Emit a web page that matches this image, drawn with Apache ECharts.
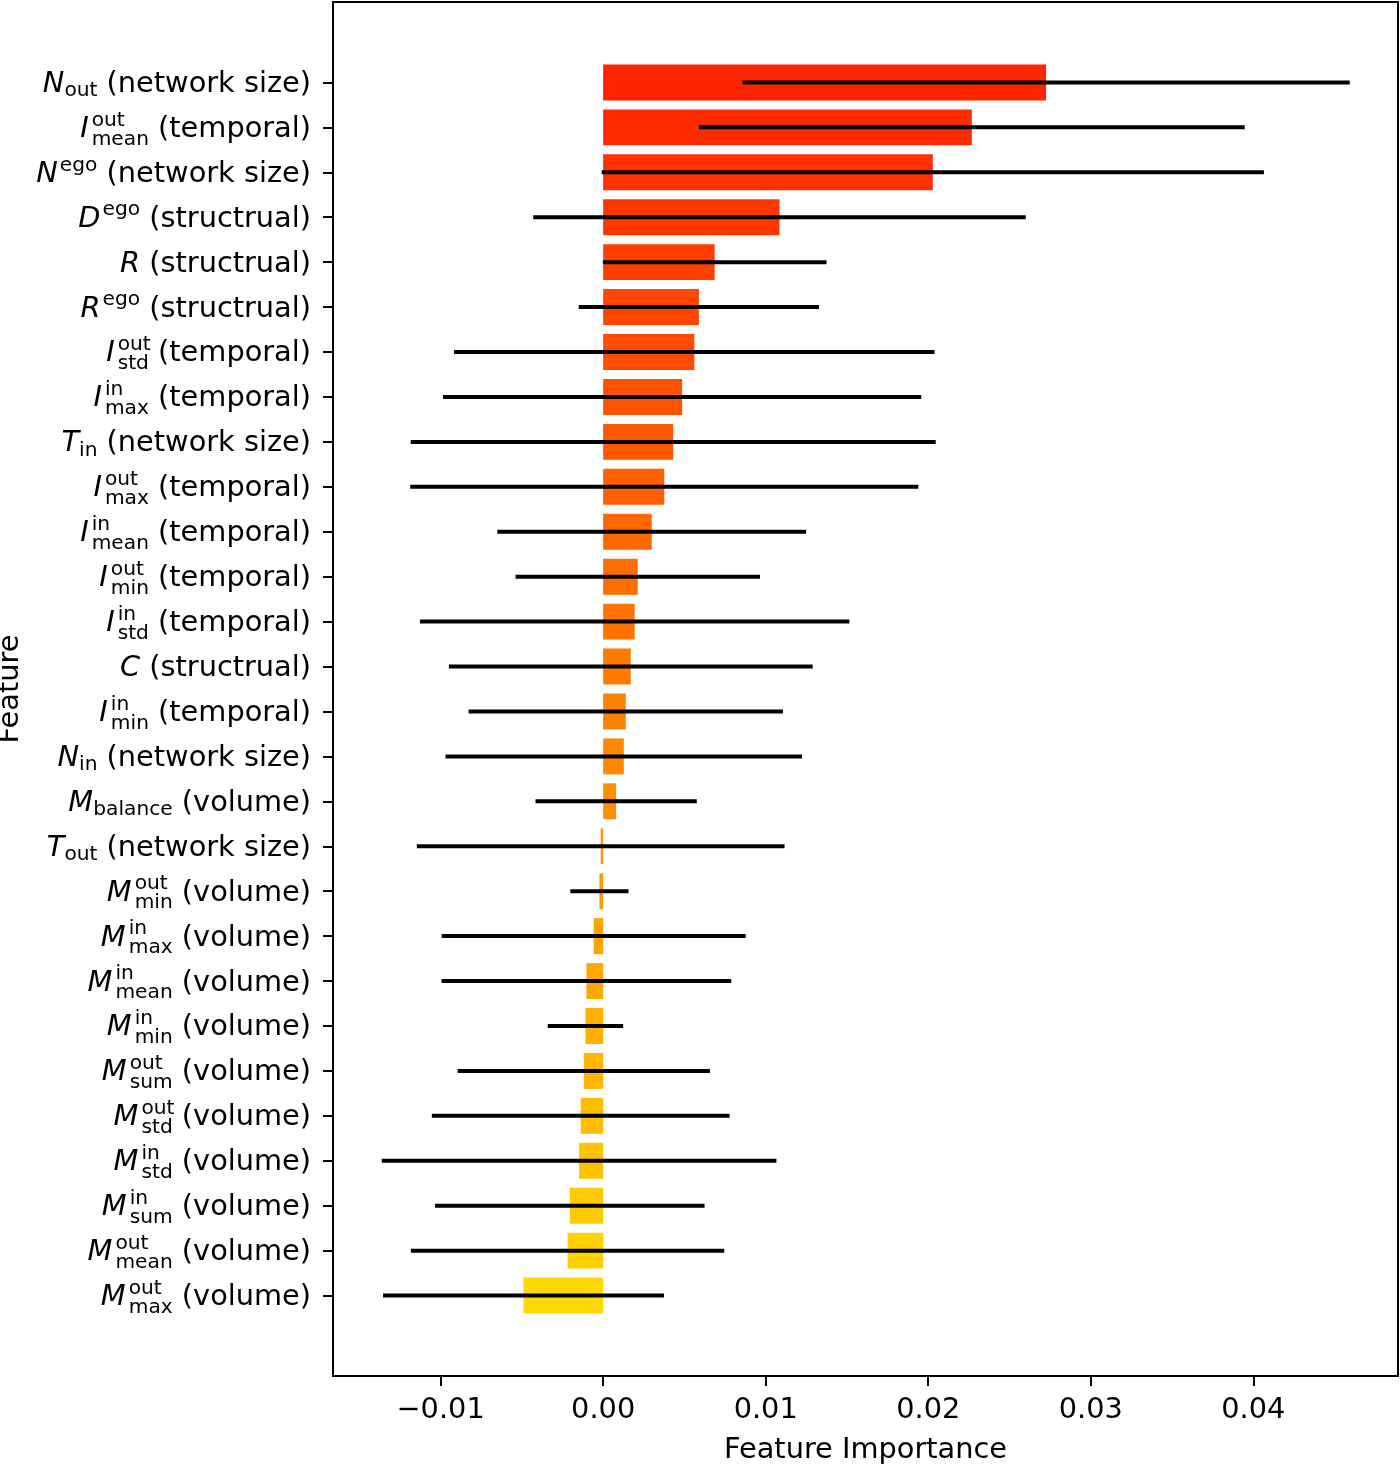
<!DOCTYPE html>
<html><head><meta charset="utf-8">
<script src="https://cdn.jsdelivr.net/npm/echarts@6/dist/echarts.min.js"></script>
<style>html,body{margin:0;padding:0;background:#fff}#chart{width:1400px;height:1464px}</style>
</head><body><div id="chart"></div>
<script>
// ---- data (top row first) ----
const featureSymbols = ['N','I','N','D','R','R','I','I','T','I','I','I','I','C','I','N','M','T','M','M','M','M','M','M','M','M','M','M'];
const featureSup = ['','out','ego','ego','','ego','out','in','','out','in','out','in','','in','','','','out','in','in','in','out','out','in','in','out','out'];
const featureSub = ['out','mean','','','','','std','max','in','max','mean','min','std','','min','in','balance','out','min','max','mean','min','sum','std','std','sum','mean','max'];
const featureGroup = ['network size','temporal','network size','structrual','structrual','structrual','temporal','temporal','network size','temporal','temporal','temporal','temporal','structrual','temporal','network size','volume','network size','volume','volume','volume','volume','volume','volume','volume','volume','volume','volume'];
const importance = [0.02725,0.02268,0.02028,0.01085,0.00686,0.00589,0.00561,0.00486,0.00431,0.00376,0.00299,0.00213,0.00194,0.00170,0.00139,0.00127,0.00080,-0.00015,-0.00023,-0.00058,-0.00103,-0.00109,-0.00119,-0.00138,-0.00148,-0.00205,-0.00219,-0.00490];
const importanceStd = [0.01868,0.01679,0.02037,0.01515,0.00688,0.00739,0.01478,0.01471,0.01615,0.01563,0.00950,0.00752,0.01321,0.01119,0.00967,0.01097,0.00496,0.01131,0.00179,0.00935,0.00891,0.00232,0.00776,0.00916,0.01214,0.00829,0.00964,0.00864];
const xTicks = [-0.01, 0.00, 0.01, 0.02, 0.03, 0.04];

// ---- build ----
const n = importance.length;
const rowIdx = importance.map((_, i) => i);
function barColor(i) {
  const g = Math.round(36 + i * (216 - 36) / (n - 1));
  return 'rgb(255,' + g + ',0)';
}
function labelFor(i) {
  let s = '{v|' + featureSymbols[i] + '}';
  const sup = featureSup[i], sub = featureSub[i];
  if (sup && sub) s += '{supz|' + sup + '}{subb|' + sub + '}';
  else if (sup) s += '{sup|' + sup + '}';
  else if (sub) s += '{sub|' + sub + '}';
  s += '{t| (' + featureGroup[i] + ')}';
  return s;
}
const FONT = 'DejaVu Sans';
const FS = 28.8, SFS = 20.2;
const LH = 46;
const base = {fontFamily: FONT, color: '#000', lineHeight: LH, align: 'left'};
const rich = {
  v: Object.assign({}, base, {fontStyle: 'italic', fontSize: FS}),
  t: Object.assign({}, base, {fontSize: FS}),
  sub: Object.assign({}, base, {fontSize: SFS, padding: [13, 0, 0, 0]}),
  sup: Object.assign({}, base, {fontSize: SFS, padding: [0, 0, 18, 2]}),
  supz: Object.assign({}, base, {fontSize: SFS, padding: [0, 0, 18, 3], width: 0}),
  subb: Object.assign({}, base, {fontSize: SFS, padding: [20, 0, 0, 0]})
};

const chart = echarts.init(document.getElementById('chart'), null, {renderer: 'canvas'});
chart.setOption({
  backgroundColor: '#fff',
  animation: false,
  grid: {left: 333, right: 2, top: 2, bottom: 88, show: true, borderColor: '#000', borderWidth: 2,
         backgroundColor: 'transparent', containLabel: false, outerBoundsMode: 'none'},
  xAxis: {
    type: 'value', min: -0.01662, max: 0.0489,
    name: 'Feature Importance', nameLocation: 'middle', nameGap: 60,
    nameTextStyle: {fontFamily: FONT, fontSize: FS, color: '#000'},
    axisLine: {show: false, onZero: false},
    splitLine: {show: false},
    axisTick: {show: true, inside: false, length: 10, lineStyle: {color: '#000', width: 2}, customValues: xTicks},
    axisLabel: {
      customValues: xTicks, margin: 20,
      fontFamily: FONT, fontSize: FS, color: '#000',
      formatter: v => (v < 0 ? '\u2212' : '') + Math.abs(v).toFixed(2)
    }
  },
  yAxis: {
    type: 'value', inverse: true, min: -1.79, max: n - 1 + 1.79,
    name: 'Feature', nameLocation: 'middle', nameGap: 301,
    nameTextStyle: {fontFamily: FONT, fontSize: FS, color: '#000'},
    axisLine: {show: false, onZero: false},
    splitLine: {show: false},
    axisTick: {show: true, inside: false, length: 10, lineStyle: {color: '#000', width: 2}, customValues: rowIdx},
    axisLabel: {
      customValues: rowIdx, margin: 22, padding: [4, 0, 0, 0],
      formatter: v => labelFor(Math.round(v)),
      rich: rich
    }
  },
  series: [
    {
      type: 'custom',
      data: importance.map((v, i) => [v, i]),
      renderItem: (params, api) => {
        const v = api.value(0), i = api.value(1);
        const p0 = api.coord([0, i]);
        const p1 = api.coord([v, i]);
        const h = api.size([0, 0.8])[1];
        return {
          type: 'rect',
          shape: {x: Math.min(p0[0], p1[0]), y: p0[1] - h / 2, width: Math.abs(p1[0] - p0[0]), height: h},
          style: {fill: barColor(i)}
        };
      },
      z: 2
    },
    {
      type: 'custom',
      data: importance.map((v, i) => [v - importanceStd[i], v + importanceStd[i], i]),
      renderItem: (params, api) => {
        const a = api.coord([api.value(0), api.value(2)]);
        const b = api.coord([api.value(1), api.value(2)]);
        return {
          type: 'line',
          shape: {x1: a[0], y1: a[1], x2: b[0], y2: b[1]},
          style: {stroke: '#000', lineWidth: 4, lineCap: 'butt'}
        };
      },
      z: 3
    }
  ]
});
</script></body></html>
